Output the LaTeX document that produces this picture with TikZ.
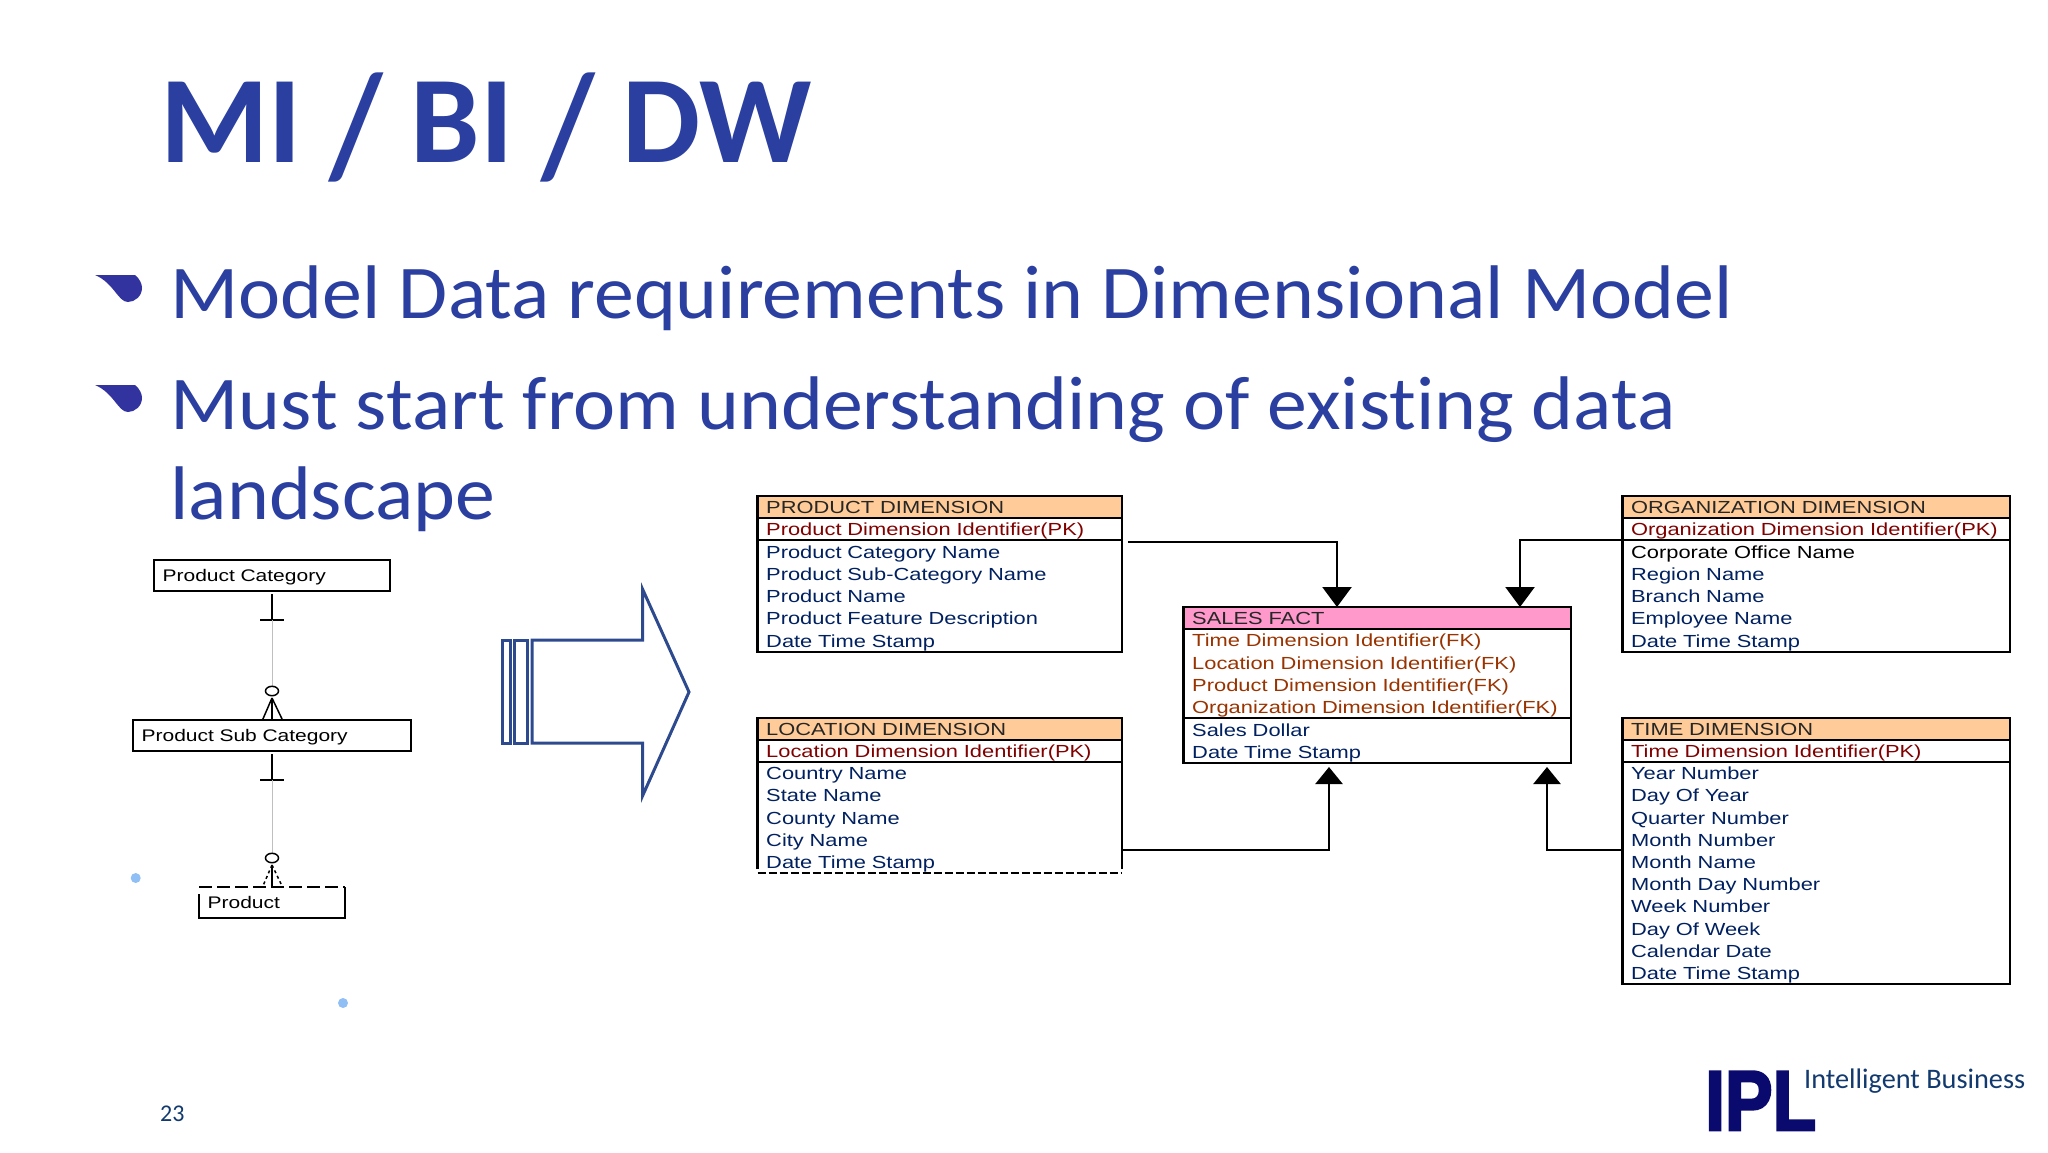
\documentclass[tikz,border=0pt]{standalone}
\usepackage{fontspec}
\setmainfont{Carlito}
\newfontfamily\slidefont[FakeStretch=1.05,Ligatures=NoCommon]{Carlito}
\newfontfamily\tablefont[FakeStretch=1.25]{Liberation Sans}
\newfontfamily\logofont[FakeBold=3]{Liberation Sans}
\usetikzlibrary{positioning, calc, arrows.meta}
\definecolor{slideblue}{HTML}{2A3FA0}
\definecolor{arrowblue}{HTML}{2E4A8E}
\definecolor{bulletblue}{HTML}{3333A0}
\definecolor{dotblue}{HTML}{8FBFF5}
\definecolor{headorange}{HTML}{FFCC99}
\definecolor{headpink}{HTML}{FF99CC}
\definecolor{keyred}{HTML}{800000}
\definecolor{fkbrown}{HTML}{993300}
\definecolor{attrnavy}{HTML}{002060}
\definecolor{logonavy}{HTML}{0A0A6E}
\definecolor{logotext}{HTML}{123A6E}
\def\tallslash{\raisebox{-13pt}{\scalebox{1}[1.18]{/}}}

\begin{document}
\begin{tikzpicture}[
  x=1pt, y=-1pt,
  node distance=0pt,
  tablerow/.style={draw, line width=2.4pt, inner xsep=8.6pt, inner ysep=0pt, outer sep=0pt, align=left,
    font=\tablefont\fontsize{17.5}{22.2}\selectfont},
  tablehead/.style={tablerow, minimum height=22pt, text=black!85},
  dimhead/.style={tablehead, fill=headorange, anchor=north west},
  facthead/.style={tablehead, fill=headpink, anchor=north west},
  tablekey/.style={tablerow, minimum height=22pt, text depth=0pt, text=keyred},
  tablebody/.style={tablerow, text=attrnavy, execute at begin node={\leavevmode\vrule height 17pt width 0pt\relax}},
  erbox/.style={draw, line width=1.5pt, anchor=north west, inner xsep=8.6pt, inner ysep=0pt, outer sep=0pt,
    minimum height=31pt, align=left, text depth=0pt, font=\tablefont\fontsize{16.8}{20}\selectfont},
  fkdown/.style={line width=2.4pt, -{Triangle[length=20pt,width=29pt]}},
  fkup/.style={line width=2.4pt, -{Triangle[length=17pt,width=27pt]}},
  slidetext/.style={anchor=base west, inner sep=0pt, text=slideblue},
]
  \useasboundingbox (0,0) rectangle (2048,1152);

  % Slide text
  \node (title) [slidetext, font=\bfseries\fontsize{124}{124}\selectfont] at (160,162) {MI \tallslash{} BI \tallslash{} DW};
  \node (line1) [slidetext, font=\slidefont\fontsize{76}{76}\selectfont] at (170.5,318.5) {Model Data requirements in Dimensional Model};
  \node (line2) [slidetext, font=\slidefont\fontsize{76}{76}\selectfont] at (170.5,429.5) {Must start from understanding of existing data};
  \node (line3) [slidetext, font=\slidefont\fontsize{76}{76}\selectfont] at (170.5,519.5) {landscape};

  % Bullets
  \foreach \y in {0,110} {
    \fill [bulletblue, yshift=-\y pt] (95,275) -- (135,275) .. controls (140,279) and (142,284) .. (142,288)
      .. controls (142,296) and (135,302) .. (128,302) .. controls (118,302) and (114,283) .. (95,275) -- cycle;
  }

  % Stray dots
  \fill [dotblue] (135.7,878) circle (5);
  \fill [dotblue] (343,1003) circle (5);

  % ER hierarchy
  \node (catbox) [erbox, minimum width=236pt, text width=218.8pt] at (154,560) {Product Category};
  \node (subbox) [erbox, minimum width=278pt, text width=260.8pt] at (133,720) {Product Sub Category};
  \node (prodbox) [erbox, draw=none, minimum width=146pt, text width=128.8pt] at (199,887) {Product};
  \draw [line width=1.5pt] ([yshift=-7pt]prodbox.north west) -- (prodbox.south west) -- (prodbox.south east) -- (prodbox.north east);
  \draw [line width=1.5pt, dash pattern=on 13pt off 5pt] (prodbox.north west) -- (prodbox.north east);

  % ER links
  \foreach \a/\b/\d in {catbox/subbox/solid, subbox/prodbox/dashed} {
    \draw [line width=1.5pt] ([yshift=-3pt]\a.south) -- ([yshift=-29pt]\a.south) coordinate (bar);
    \draw [line width=1.5pt] ([xshift=-12pt]bar) -- ([xshift=12pt]bar);
    \draw [gray!50, line width=0.6pt] (bar) -- ([yshift=34pt]\b.north);
    \draw [line width=1.5pt] ([yshift=29pt]\b.north) ellipse (6.5pt and 4.7pt);
    \draw [line width=1.5pt] ([yshift=22pt]\b.north) -- (\b.north);
    \draw [line width=1.5pt, \d] ([yshift=22pt]\b.north) -- ([xshift=-9.5pt]\b.north);
    \draw [line width=1.5pt, \d] ([yshift=22pt]\b.north) -- ([xshift=10.5pt]\b.north);
  }

  % Big arrow
  \draw [arrowblue, line width=3pt] (532,640) -- (642.5,640) -- (642.5,589) -- (689,692)
    -- (642.5,796) -- (642.5,743) -- (532,743) -- cycle;
  \draw [arrowblue, line width=3pt] (502,640) rectangle (510,743);
  \draw [arrowblue, line width=3pt] (514,640) rectangle (527,743);

  \def\dimw{347pt} % Text width of the left tables
  \def\wdw{370pt} % Text width of the fact and right tables

  % Product table
  \node (prodhead) [dimhead, text width=\dimw] at (757.6,496) {PRODUCT DIMENSION};
  \node (prodkey) [tablekey, text width=\dimw, below=of prodhead] {Product Dimension Identifier(PK)};
  \node (prodbody) [tablebody, text width=\dimw, minimum height=112pt, below=of prodkey] {Product Category Name\\Product Sub-Category Name\\Product Name\\Product Feature Description\\Date Time Stamp};

  % Location table
  \node (lochead) [dimhead, text width=\dimw] at (757.6,718) {LOCATION DIMENSION};
  \node (lockey) [tablekey, text width=\dimw, below=of lochead] {Location Dimension Identifier(PK)};
  \node (locbody) [tablebody, draw=none, text width=\dimw, minimum height=111pt, below=of lockey] {Country Name\\State Name\\County Name\\City Name\\Date Time Stamp};
  \draw [line width=2.4pt] ([yshift=4pt]locbody.south west) -- (locbody.north west);
  \draw [line width=2.4pt] ([yshift=4pt]locbody.south east) -- (locbody.north east);
  \draw [line width=2pt, dash pattern=on 8pt off 3pt] (locbody.south west) -- (locbody.south east);

  % Sales fact table
  \node (facthd) [facthead, text width=\wdw] at (1183.6,607) {SALES FACT};
  \node (factkey) [tablebody, text=fkbrown, text width=\wdw, minimum height=89pt, below=of facthd] {Time Dimension Identifier(FK)\\Location Dimension Identifier(FK)\\Product Dimension Identifier(FK)\\Organization Dimension Identifier(FK)};
  \node (factbody) [tablebody, text width=\wdw, minimum height=45pt, below=of factkey] {Sales Dollar\\Date Time Stamp};

  % Organization table
  \node (orghead) [dimhead, text width=\wdw] at (1622.5,496) {ORGANIZATION DIMENSION};
  \node (orgkey) [tablekey, text width=\wdw, below=of orghead] {Organization Dimension Identifier(PK)};
  \node (orgbody) [tablebody, text width=\wdw, minimum height=112pt, below=of orgkey] {\textcolor{black}{Corporate Office Name}\\Region Name\\Branch Name\\Employee Name\\Date Time Stamp};

  % Time table
  \node (timehead) [dimhead, text width=\wdw] at (1622.5,718) {TIME DIMENSION};
  \node (timekey) [tablekey, text width=\wdw, below=of timehead] {Time Dimension Identifier(PK)};
  \node (timebody) [tablebody, text width=\wdw, minimum height=222pt, below=of timekey] {Year Number\\Day Of Year\\Quarter Number\\Month Number\\Month Name\\Month Day Number\\Week Number\\Day Of Week\\Calendar Date\\Date Time Stamp};

  % Connect the dimensions to the fact table
  \draw [fkdown] ([shift={(6pt,-2pt)}]prodkey.south east) -| ([xshift=153.4pt]facthd.north west);
  \draw [fkdown] (orgkey.south west) -| ([xshift=336.4pt]facthd.north west);
  \draw [fkup] ([yshift=-88pt]lockey.south east) -| ([shift={(145.4pt,-4pt)}]factbody.south west);
  \draw [fkup] ([yshift=-88pt]timekey.south west) -| ([shift={(363.4pt,-4pt)}]factbody.south west);

  % Footer
  \node (pagenum) [slidetext, text=logotext, font=\fontsize{24}{24}\selectfont] at (160,1121) {23};
  \node (logo) [anchor=base west, inner sep=0pt, text=logonavy, xscale=0.84, font=\logofont\bfseries\fontsize{85}{85}\selectfont] at (1705,1130) {IPL};
  \node (slogan) [anchor=base west, inner sep=0pt, text=logotext, font=\fontsize{28.3}{28.3}\selectfont] at (1804,1088) {Intelligent Business};
\end{tikzpicture}
\end{document}
